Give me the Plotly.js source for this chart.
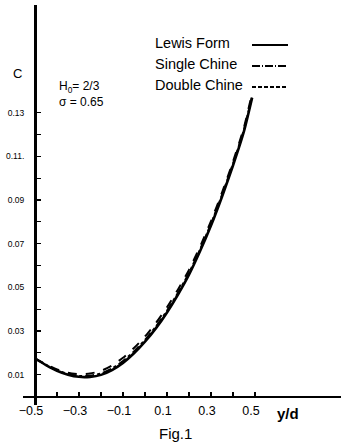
<!DOCTYPE html>
<html><head><meta charset="utf-8">
<script src="https://cdn.plot.ly/plotly-3.0.1.min.js"></script>
<style>html,body{margin:0;padding:0;background:#fff;overflow:hidden}</style>
</head><body><div id="chart" style="width:341px;height:447px"></div>
<script>
// ---- data ----
const xPos = [-0.5,-0.45,-0.4,-0.35,-0.3,-0.25,-0.2,-0.15,-0.1,-0.05,0,0.05,0.1,0.15,0.2,0.25,0.3,0.35,0.4,0.45,0.487];
const lewisForm   = [0.0174,0.0144,0.0118,0.0100,0.0090,0.0090,0.0099,0.0121,0.0154,0.0198,0.0251,0.0313,0.0385,0.0467,0.0558,0.0665,0.0783,0.0915,0.1058,0.1215,0.1368];
const singleChine = [0.0174,0.0145,0.0120,0.0103,0.0094,0.0095,0.0105,0.0128,0.0162,0.0206,0.0259,0.0321,0.0393,0.0475,0.0566,0.0673,0.0791,0.0923,0.1066,0.1223,0.1377];
const doubleChine = [0.0175,0.0147,0.0124,0.0109,0.0102,0.0105,0.0117,0.0142,0.0177,0.0222,0.0275,0.0337,0.0409,0.0490,0.0580,0.0686,0.0803,0.0934,0.1076,0.1233,0.1390];
const seriesNames = ['Lewis Form', 'Single Chine', 'Double Chine'];
const xTickVals = [-0.5,-0.3,-0.1,0.1,0.3,0.5];
const xTickText = ['\u22120.5','\u22120.3','\u22120.1','0.1','0.3','0.5'];
const xMinorVals = [-0.4,-0.2,0,0.2,0.4];
const yTickVals = [0.01,0.03,0.05,0.07,0.09,0.11,0.13];
const yTickText = ['0.01','0.03','0.05','0.07','0.09','0.11.','0.13'];
const yMinorVals = [0.02,0.04,0.06,0.08,0.10,0.12];

// ---- layout geometry ----
const W = 341, H = 447;
const M = {l: 23, r: 0, t: 5, b: 42};
const PW = W - M.l - M.r, PH = H - M.t - M.b;
const xRange = [-0.5545, 0.8909];
const yRange = [-0.0039, 0.1793];
const px = v => (v - M.l) / PW;          // pixel -> paper x
const py = v => 1 - (v - M.t) / PH;      // pixel -> paper y

const series = [lewisForm, singleChine, doubleChine];
const dashes = ['solid', 'dashdot', 'dash'];
const widths = [2.6, 2.0, 2.0];
const traces = series.map((ys, i) => ({
  x: xPos, y: ys, type: 'scatter', mode: 'lines', name: seriesNames[i],
  line: {color: '#000', width: widths[i], dash: dashes[i], shape: 'spline', smoothing: 0.6},
  showlegend: false, hoverinfo: 'skip'
}));

const font = 'Liberation Sans, Arial, sans-serif';
const rowsY = [43, 64, 85];
const annotations = seriesNames.map((n, i) => ({
  xref: 'paper', yref: 'paper', x: px(153), y: py(rowsY[i]), xanchor: 'left', yanchor: 'middle',
  text: n, showarrow: false, font: {family: font, size: 14.5, color: '#000'}
}));
const shapes = seriesNames.map((n, i) => ({
  type: 'line', xref: 'paper', yref: 'paper', x0: px(252), x1: px(288), y0: py(rowsY[i] + 2), y1: py(rowsY[i] + 2),
  line: {color: '#000', width: 1.8, dash: dashes[i] === 'solid' ? 'solid' : (dashes[i] === 'dash' ? '4px,2px' : '8px,2px,1px,2px')}
}));
annotations.push(
  {xref: 'paper', yref: 'paper', x: px(17), y: py(73), text: 'C', showarrow: false, xanchor: 'center', yanchor: 'middle', font: {family: font, size: 13, color: '#000'}},
  {xref: 'paper', yref: 'paper', x: px(57), y: py(87), text: 'H<sub>0</sub>= 2/3', showarrow: false, xanchor: 'left', yanchor: 'middle', font: {family: font, size: 12, color: '#000'}},
  {xref: 'paper', yref: 'paper', x: px(57), y: py(102), text: '\u03c3 = 0.65', showarrow: false, xanchor: 'left', yanchor: 'middle', font: {family: font, size: 12, color: '#000'}},
  {xref: 'paper', yref: 'paper', x: px(288), y: py(413), text: '<b>y/d</b>', showarrow: false, xanchor: 'center', yanchor: 'middle', font: {family: font, size: 15, color: '#000'}},
  {xref: 'paper', yref: 'paper', x: px(175), y: py(433), text: 'Fig.1', showarrow: false, xanchor: 'center', yanchor: 'middle', font: {family: font, size: 15, color: '#000'}}
);

const layout = {
  width: W, height: H, margin: M, paper_bgcolor: '#fff', plot_bgcolor: '#fff', showlegend: false,
  xaxis: {
    range: xRange, anchor: 'free', position: (0 - yRange[0]) / (yRange[1] - yRange[0]),
    showline: true, linecolor: '#000', linewidth: 1.6, showgrid: false, zeroline: false,
    tickmode: 'array', tickvals: xTickVals, ticktext: xTickText,
    ticks: 'inside', ticklen: 4, tickwidth: 1.4, tickcolor: '#000', ticklabelstandoff: 2, ticklabelshift: -4,
    minor: {tickmode: 'array', tickvals: xMinorVals, ticks: 'inside', ticklen: 4, tickwidth: 1.4, tickcolor: '#000', showgrid: false},
    tickfont: {family: font, size: 12.5, color: '#000'}, automargin: false
  },
  yaxis: {
    range: yRange, anchor: 'free', position: (-0.5 - xRange[0]) / (xRange[1] - xRange[0]),
    showline: true, linecolor: '#000', linewidth: 2.8, showgrid: false, zeroline: false,
    tickmode: 'array', tickvals: yTickVals, ticktext: yTickText,
    ticks: 'inside', ticklen: 4, tickwidth: 1.2, tickcolor: '#000', ticklabelstandoff: 8,
    minor: {tickmode: 'array', tickvals: yMinorVals, ticks: 'inside', ticklen: 4, tickwidth: 1.2, tickcolor: '#000', showgrid: false},
    tickfont: {family: font, size: 8.5, color: '#000'}, automargin: false
  },
  annotations: annotations, shapes: shapes
};
Plotly.newPlot('chart', traces, layout, {staticPlot: true, displayModeBar: false});
</script></body></html>
